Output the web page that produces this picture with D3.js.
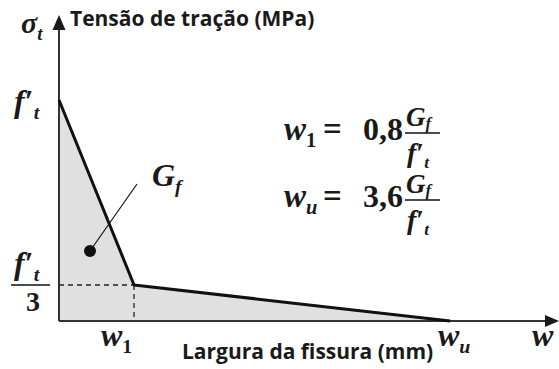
<!DOCTYPE html>
<html>
<head>
<meta charset="utf-8">
<script src="https://cdn.jsdelivr.net/npm/d3@7"></script>
<style>
  body{margin:0;background:#fff;}
  svg{display:block;}
  .word{font-family:"Open Sans",sans-serif;font-weight:bold;fill:#1a1a1a;}
  .math{font-family:"Liberation Serif",serif;font-weight:bold;font-style:italic;fill:#1a1a1a;}
  .num{font-family:"Liberation Serif",serif;font-weight:bold;font-style:normal;fill:#1a1a1a;}
</style>
</head>
<body>
<svg id="chart" width="559" height="369"></svg>
<script>
// bilinear softening curve (relative units)
var crackWidth=[0,0.8,4.17];
var stress=[1,0.163,0];
var wAxisMax=5.32;
var sAxisMax=1.385;

var axisTitles=["Tensão de tração (MPa)","Largura da fissura (mm)"];
var coefs=["0,8","3,6"];
var coefSubs=["1","u"];

var svg=d3.select("#chart");
var x=d3.scaleLinear().domain([0,wAxisMax]).range([59,558]);
var y=d3.scaleLinear().domain([0,sAxisMax]).range([321,15]);

var pts=crackWidth.map(function(w,i){return {w:w,s:stress[i]};});

// area under the curve (Gf)
var area=d3.area().x(function(d){return x(d.w);}).y0(y(0)).y1(function(d){return y(d.s);});
svg.append("path").datum(pts).attr("d",area).attr("fill","#e0e0e0");

// dashed guides at the knee
var knee=pts[1];
svg.append("line").attr("x1",x(0)).attr("x2",x(knee.w)).attr("y1",y(knee.s)).attr("y2",y(knee.s))
    .attr("stroke","#222").attr("stroke-width",1.3).attr("stroke-dasharray","5,4");
svg.append("line").attr("x1",x(knee.w)).attr("x2",x(knee.w)).attr("y1",y(knee.s)).attr("y2",y(0))
    .attr("stroke","#222").attr("stroke-width",1.3).attr("stroke-dasharray","5,4");

// axes with arrows
svg.append("line").attr("x1",x(0)).attr("x2",x(0)).attr("y1",y(0)).attr("y2",y(sAxisMax)+10)
    .attr("stroke","#333").attr("stroke-width",2);
svg.append("line").attr("x1",x(0)).attr("x2",x(wAxisMax)-6).attr("y1",y(0)).attr("y2",y(0))
    .attr("stroke","#333").attr("stroke-width",2);
svg.append("path").attr("fill","#1a1a1a")
    .attr("d","M"+x(0)+","+y(sAxisMax)+"l-6.5,15h13z");
svg.append("path").attr("fill","#1a1a1a")
    .attr("d","M"+(x(wAxisMax)+1)+","+y(0)+"l-14,-6v12z");

// the curve itself
var line=d3.line().x(function(d){return x(d.w);}).y(function(d){return y(d.s);});
svg.append("path").datum(pts).attr("d",line).attr("fill","none")
    .attr("stroke","#111").attr("stroke-width",3).attr("stroke-linejoin","round");

// Gf marker
svg.append("line").attr("x1",90).attr("y1",251).attr("x2",137).attr("y2",184)
    .attr("stroke","#111").attr("stroke-width",1.2);
svg.append("circle").attr("cx",90).attr("cy",251).attr("r",6).attr("fill","#111");

// word titles
svg.append("text").attr("class","word").attr("x",70).attr("y",26).style("font-size","21px").text(axisTitles[0]);
svg.append("text").attr("class","word").attr("x",182).attr("y",359).style("font-size","21px").text(axisTitles[1]);

// math labels: main letter + (prime) + subscript
function mathLabel(xp,yp,size,main,prime,sub,subNum,drop){
    var t=svg.append("text").attr("class","math").attr("x",xp).attr("y",yp).style("font-size",size+"px");
    t.append("tspan").text(main);
    if(prime) t.append("tspan").attr("class","num").text("′");
    var s=t.append("tspan").attr("dy",size*(drop==null?0.22:drop)).style("font-size",(size*0.62)+"px").text(sub);
    if(subNum) s.attr("class","num");
    return t;
}
mathLabel(21,33,30,"σ",false,"t");
mathLabel(14,112,32,"f",true,"t");
mathLabel(14,274,32,"f",true,"t");
svg.append("line").attr("x1",11).attr("x2",50).attr("y1",285).attr("y2",285).attr("stroke","#111").attr("stroke-width",1.5);
svg.append("text").attr("class","num").attr("x",33).attr("y",311).attr("text-anchor","middle").style("font-size","28px").text("3");
mathLabel(101,346,32,"w",false,"1",true);
mathLabel(438,346,32,"w",false,"u");
svg.append("text").attr("class","math").attr("x",532).attr("y",346).style("font-size","32px").text("w");
mathLabel(152,186,32,"G",false,"f");

// formulas  w = c * Gf / f't
function formula(yBase,sub,subNum,coef){
    mathLabel(284,yBase,33,"w",false,sub,subNum);
    svg.append("text").attr("class","num").attr("x",323).attr("y",yBase).style("font-size","33px").text("=");
    svg.append("text").attr("class","num").attr("x",403).attr("y",yBase).attr("text-anchor","end").style("font-size","32px").text(coef);
    svg.append("line").attr("x1",405).attr("x2",440).attr("y1",yBase-7).attr("y2",yBase-7).attr("stroke","#111").attr("stroke-width",1.5);
    mathLabel(406,yBase-14,27,"G",false,"f",false,0.1);
    mathLabel(407,yBase+22,28,"f",true,"t");
}
coefs.forEach(function(c,i){ formula(140+i*67,coefSubs[i],i===0,c); });
</script>
</body>
</html>
